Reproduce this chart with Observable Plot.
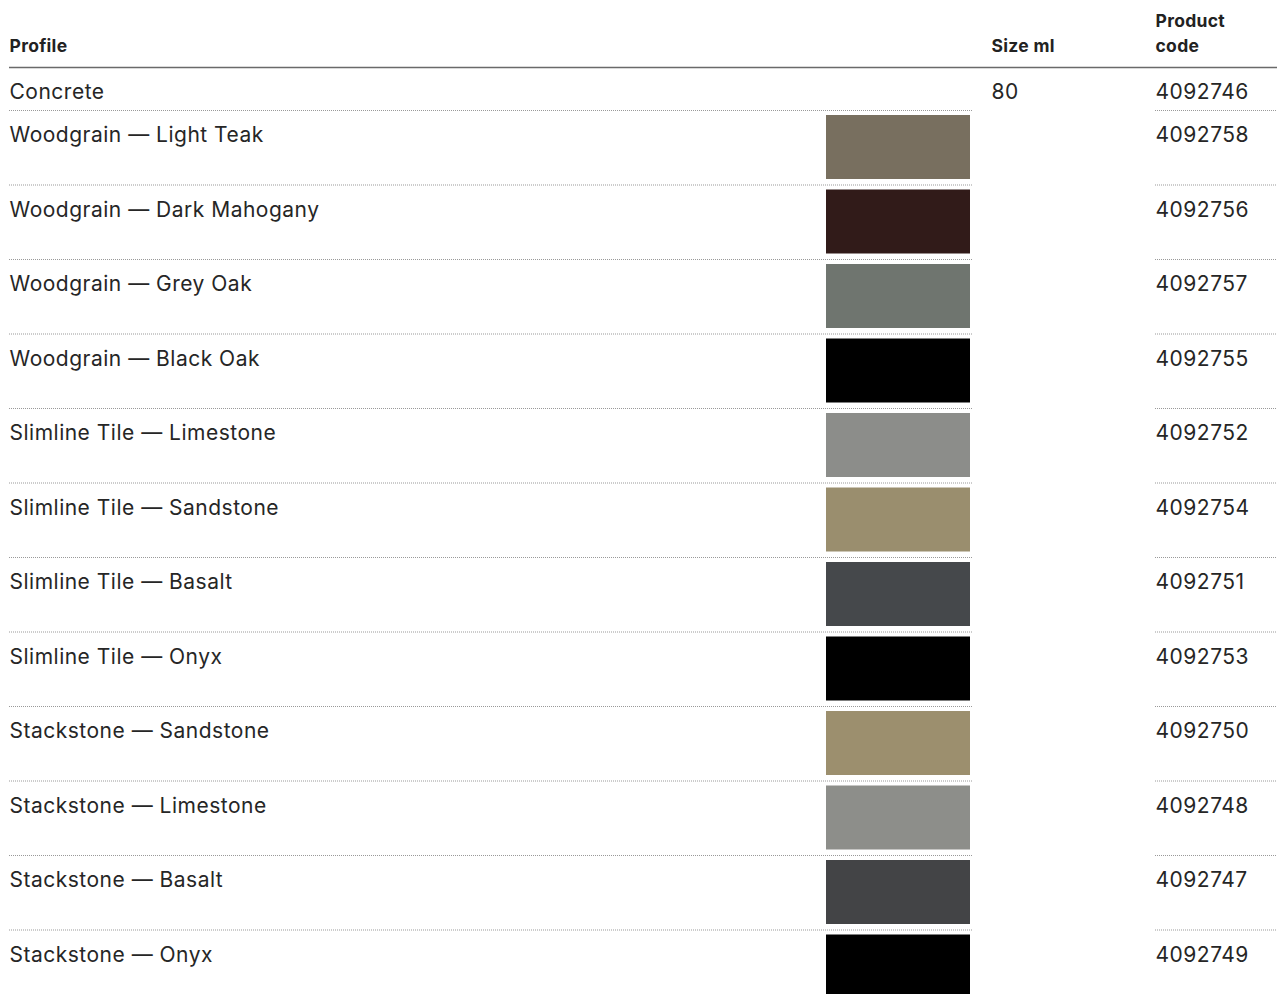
<!DOCTYPE html>
<html>
<head>
<meta charset="utf-8">
<script src="https://cdn.jsdelivr.net/npm/d3@7"></script>
<script src="https://cdn.jsdelivr.net/npm/@observablehq/plot@0.6"></script>
<style>
  html, body { margin: 0; padding: 0; background: #fff; }
  svg { display: block; }
  .body-text text { letter-spacing: 0.5px; }
  .head-text text { letter-spacing: 0.3px; }
</style>
</head>
<body>
<div id="chart"></div>
<script>
// ---- data ----
const headers = ["Profile", "Size ml", "Product\ncode"];
const profiles = [
  "Concrete",
  "Woodgrain — Light Teak",
  "Woodgrain — Dark Mahogany",
  "Woodgrain — Grey Oak",
  "Woodgrain — Black Oak",
  "Slimline Tile — Limestone",
  "Slimline Tile — Sandstone",
  "Slimline Tile — Basalt",
  "Slimline Tile — Onyx",
  "Stackstone — Sandstone",
  "Stackstone — Limestone",
  "Stackstone — Basalt",
  "Stackstone — Onyx"
];
const productCodes = ["4092746","4092758","4092756","4092757","4092755","4092752","4092754","4092751","4092753","4092750","4092748","4092747","4092749"];
const sizeMl = 80;
const swatchColors = [null,"#786f5f","#311b19","#6f756f","#000000","#8c8d8a","#9a8e6e","#45484b","#000000","#9c8f6e","#8d8e8a","#434446","#000000"];

// ---- layout ----
const W = 1277, H = 994;
const headerLine = 67;
const firstRowH = 43, rowH = 74.5;
const rowTop = i => i === 0 ? headerLine : headerLine + firstRowH + (i - 1) * rowH;
const rowBottom = i => i === 0 ? headerLine + firstRowH : rowTop(i) + rowH;
const colProfile = 9, colSize = 991, colCode = 1155;
const swX1 = 826, swX2 = 970;

const rows = profiles.map((p, i) => ({
  i, profile: p, code: productCodes[i], color: swatchColors[i],
  top: rowTop(i), bottom: rowBottom(i), mid: rowTop(i) + 25
}));
const lines = rows.filter(r => r.bottom < H - 5);
const swatches = rows.filter(r => r.color);

const font = "Inter, 'Noto Sans', sans-serif";
const headStyle = {textAnchor: "start", lineAnchor: "bottom", fontSize: 17.5, fontWeight: 700, fill: "#222", className: "head-text"};
const bodyStyle = {textAnchor: "start", fontSize: 21, fill: "#262626", className: "body-text"};

const chart = Plot.plot({
  width: W, height: H,
  margin: 0,
  x: {type: "linear", domain: [0, W], range: [0, W], axis: null},
  y: {type: "linear", domain: [0, H], range: [0, H], axis: null},
  style: {fontFamily: font, background: "#fff"},
  marks: [
    // header texts
    Plot.text([headers[0]], {x: colProfile, y: 51, text: d => d, ...headStyle}),
    Plot.text([headers[1]], {x: colSize, y: 51, text: d => d, ...headStyle}),
    Plot.text([headers[2]], {x: colCode, y: 51, text: d => d, lineHeight: 1.42, ...headStyle}),
    // header rule
    Plot.ruleY([headerLine], {x1: colProfile, x2: W, stroke: "#6a6a6a", strokeWidth: 1.5}),
    // dotted row separators
    Plot.ruleY(lines, {y: "bottom", x1: colProfile, x2: 973, stroke: "#999", strokeWidth: 1, strokeDasharray: "1,1"}),
    Plot.ruleY(lines, {y: "bottom", x1: colCode, x2: W, stroke: "#999", strokeWidth: 1, strokeDasharray: "1,1"}),
    // swatches
    Plot.rect(swatches, {x1: swX1, x2: swX2, y1: d => d.top + 5, y2: d => d.top + 69, fill: "color"}),
    // profile names
    Plot.text(rows, {x: colProfile, y: "mid", text: "profile", ...bodyStyle}),
    // size
    Plot.text([sizeMl], {x: colSize, y: rows[0].mid, text: d => String(d), ...bodyStyle}),
    // codes
    Plot.text(rows, {x: colCode, y: "mid", text: "code", ...bodyStyle})
  ]
});
document.getElementById("chart").appendChild(chart);
</script>
</body>
</html>
